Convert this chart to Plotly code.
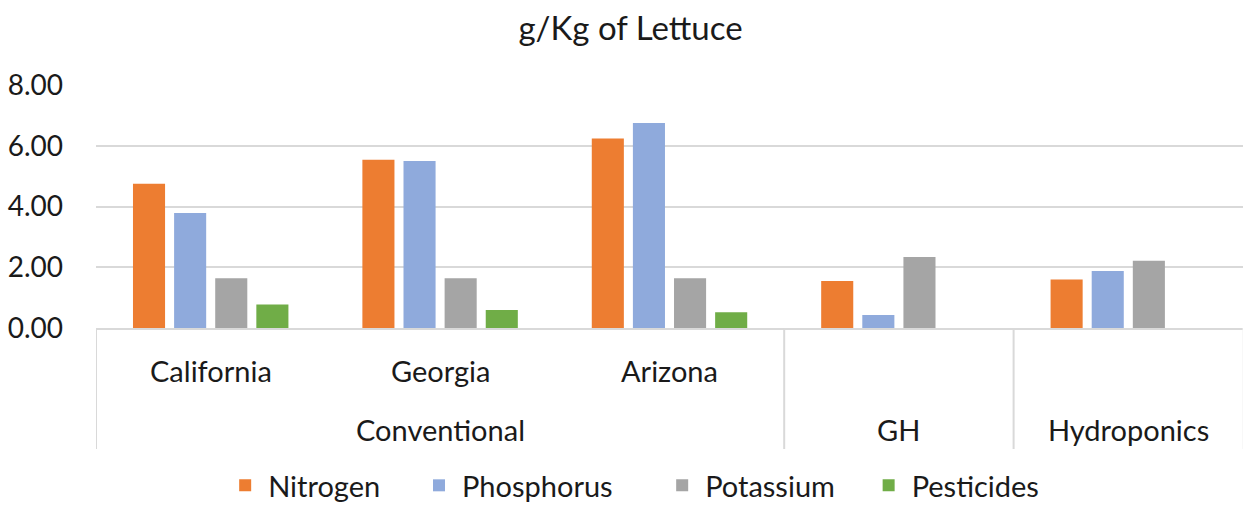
import plotly.graph_objects as go

# Nutrient and pesticide use per kilogram of lettuce, by production system
categories = ["California", "Georgia", "Arizona", "GH", "Hydroponics"]
inner_labels = ["California", "Georgia", "Arizona", "", ""]
groups = ["Conventional", "GH", "Hydroponics"]
group_centers = [1, 3, 4]          # category index under each group label
group_edges = [-0.5, 2.5, 3.5]     # category boundaries with a divider line

nitrogen = [4.75, 5.54, 6.24, 1.55, 1.60]
phosphorus = [3.79, 5.50, 6.75, 0.43, 1.88]
potassium = [1.64, 1.64, 1.64, 2.34, 2.21]
pesticides = [0.77, 0.59, 0.52, None, None]

y_ticks = [0, 2, 4, 6, 8]
y_ticktext = ["0.00", "2.00", "4.00", "6.00", "8.00"]

series = [
    ("Nitrogen", nitrogen, "#ED7D31"),
    ("Phosphorus", phosphorus, "#8FAADC"),
    ("Potassium", potassium, "#A5A5A5"),
    ("Pesticides", pesticides, "#70AD47"),
]

FONT = "Lato"
TXT = "#1a1a1a"
GRID = "#d9d9d9"
LABEL_SIZE = 29

# one legend box per series, spread along the bottom row
legend_ids = ["legend", "legend2", "legend3", "legend4"]
legend_x = [0.110, 0.279, 0.491, 0.671]

fig = go.Figure()
for (name, vals, color), lid in zip(series, legend_ids):
    fig.add_trace(go.Bar(name=name, x=categories, y=vals, legend=lid,
                         marker=dict(color=color, line=dict(width=0))))

# Row of sub-category labels and row of group labels beneath the axis
annotations = []
for cat, lab in zip(categories, inner_labels):
    if lab:
        annotations.append(dict(x=cat, y=-0.174, xref="x", yref="paper",
                                text=lab, showarrow=False, yanchor="middle",
                                font=dict(family=FONT, size=LABEL_SIZE, color=TXT)))
for g, c in zip(groups, group_centers):
    annotations.append(dict(x=c, y=-0.417, xref="x", yref="paper",
                            text=g, showarrow=False, yanchor="middle",
                            font=dict(family=FONT, size=LABEL_SIZE, color=TXT)))

shapes = []
for e in group_edges:
    shapes.append(dict(type="line", xref="x", yref="paper", x0=e, x1=e,
                       y0=0, y1=-0.498, line=dict(color=GRID, width=2)))
shapes.append(dict(type="line", xref="x", yref="paper", x0=4.5, x1=4.5,
                   y0=0, y1=-0.498, line=dict(color="#f0f0f0", width=1)))

legend_common = dict(orientation="h", xanchor="left", xref="paper",
                     y=-0.648, yanchor="middle", bgcolor="rgba(0,0,0,0)",
                     font=dict(family=FONT, size=LABEL_SIZE, color=TXT),
                     itemwidth=36)
legends = {lid: dict(legend_common, x=lx) for lid, lx in zip(legend_ids, legend_x)}

fig.update_layout(
    width=1244, height=512,
    margin=dict(l=96, r=1, t=85, b=180),
    paper_bgcolor="white", plot_bgcolor="white",
    barmode="group", bargap=0.283, bargroupgap=0.22,
    title=dict(text="g/Kg of Lettuce", x=0.466, xanchor="center",
               y=1 - 28 / 512, yanchor="middle", xref="paper",
               font=dict(family=FONT, size=33, color=TXT)),
    xaxis=dict(showticklabels=False, ticks="", showgrid=False,
               showline=True, linecolor=GRID, linewidth=2,
               range=[-0.5, 4.5], zeroline=False),
    yaxis=dict(range=[0, 8], tickvals=y_ticks, ticktext=y_ticktext,
               showgrid=True, gridcolor=GRID, gridwidth=2,
               zeroline=False, showline=False, ticks="",
               tickfont=dict(family=FONT, size=28, color=TXT),
               ticklabelstandoff=32),
    annotations=annotations,
    shapes=shapes,
    showlegend=True,
    **legends,
)

fig.write_html("out.html")
